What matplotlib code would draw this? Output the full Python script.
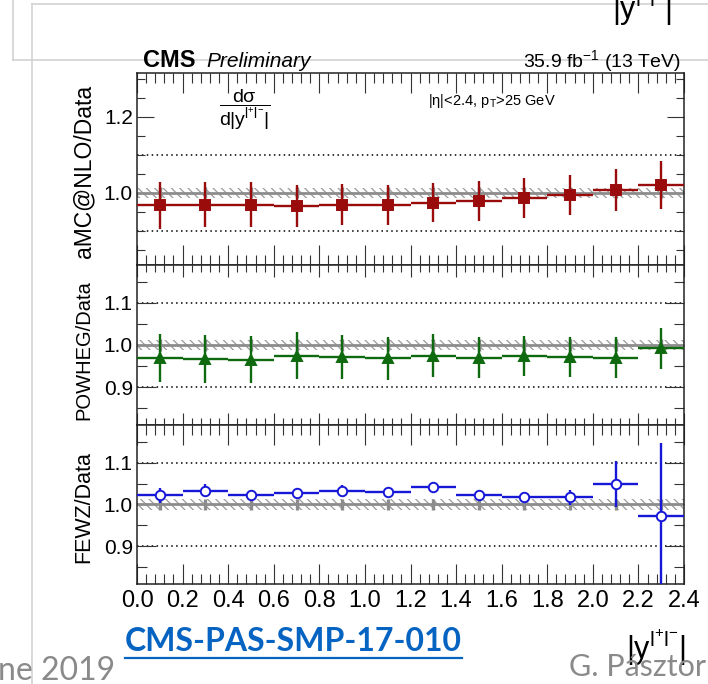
import matplotlib
matplotlib.use("Agg")
import matplotlib.pyplot as plt
from matplotlib.lines import Line2D
from matplotlib.ticker import FixedLocator, MultipleLocator

plt.rcParams["font.family"] = ["Liberation Sans", "DejaVu Sans"]
plt.rcParams["mathtext.fontset"] = "custom"
plt.rcParams["mathtext.rm"] = "Liberation Sans"
plt.rcParams["mathtext.it"] = "Liberation Sans:italic"
plt.rcParams["mathtext.bf"] = "Liberation Sans:bold"
plt.rcParams["mathtext.default"] = "regular"
plt.rcParams["hatch.linewidth"] = 0.9

# |y(ll)| binning
bin_centers = [0.1, 0.3, 0.5, 0.7, 0.9, 1.1, 1.3, 1.5, 1.7, 1.9, 2.1, 2.3]
bin_half_width = 0.1
x_ticks = [0.0, 0.2, 0.4, 0.6, 0.8, 1.0, 1.2, 1.4, 1.6, 1.8, 2.0, 2.2, 2.4]
x_tick_labels = ["0.0", "0.2", "0.4", "0.6", "0.8", "1.0", "1.2",
                 "1.4", "1.6", "1.8", "2.0", "2.2", "2.4"]

# Relative uncertainty of the measurement (grey band and bars around 1)
data_rel_err = [0.014, 0.014, 0.014, 0.014, 0.014, 0.014,
                0.014, 0.014, 0.014, 0.014, 0.014, 0.014]
band_half_width = 0.013

# Prediction / data ratios
amc_ratio = [0.967, 0.969, 0.969, 0.965, 0.969, 0.967,
             0.974, 0.978, 0.987, 0.994, 1.007, 1.020]
amc_err = [0.061, 0.060, 0.060, 0.056, 0.055, 0.053,
           0.052, 0.052, 0.053, 0.053, 0.055, 0.064]

powheg_ratio = [0.969, 0.967, 0.965, 0.975, 0.971, 0.968,
                0.975, 0.970, 0.974, 0.971, 0.970, 0.992]
powheg_err = [0.058, 0.057, 0.056, 0.056, 0.052, 0.050,
              0.050, 0.049, 0.048, 0.048, 0.048, 0.048]

fewz_ratio = [1.022, 1.033, 1.022, 1.028, 1.033, 1.030,
              1.041, 1.022, 1.017, 1.017, 1.049, 0.972]
fewz_err = [0.018, 0.016, 0.012, 0.010, 0.014, 0.010,
            0.010, 0.012, 0.012, 0.018, 0.054, 0.174]

W, H = 708, 684
fig = plt.figure(figsize=(W / 100, H / 100), dpi=100)
fig.patch.set_facecolor("white")


def fx(x):
    return x / W


def fy(y):
    return 1 - y / H


# slide frame lines
slide_grey = "#d2d2d2"
for (x0, y0, x1, y1) in [(32, 4, 708, 4), (32, 4, 32, 684),
                         (13, 0, 13, 60), (13, 60, 708, 60)]:
    fig.add_artist(Line2D([fx(x0), fx(x1)], [fy(y0), fy(y1)],
                          transform=fig.transFigure, color=slide_grey,
                          lw=1.2, zorder=0))

left, right = 137, 684
panels = [(73, 265), (265, 425), (425, 584)]
axes = []
for top, bottom in panels:
    ax = fig.add_axes([fx(left), fy(bottom), (right - left) / W, (bottom - top) / H])
    axes.append(ax)

ylims = [(0.81, 1.315), (0.81, 1.19), (0.81, 1.19)]
ymajor = [[0.8, 1.0, 1.2], [0.9, 1.0, 1.1], [0.9, 1.0, 1.1]]
ylabels = ["aMC@NLO/Data", "POWHEG/Data", "FEWZ/Data"]
ylabel_sizes = [16.5, 14.5, 15.5]
ylabel_centers = [171, 350, 507]
xtick_len = [(14.4, 7.2), (8.6, 5.0), (14.4, 7.2)]
ytick_len = [(12.0, 5.8), (14.0, 7.2), (14.0, 7.2)]

series = [
    (amc_ratio, amc_err, "#9a0b0b", "s", 6.5, None),
    (powheg_ratio, powheg_err, "#0f6a0f", "^", 7.5, None),
    (fewz_ratio, fewz_err, "#1717d8", "o", 6.8, "white"),
]

for i, ax in enumerate(axes):
    ax.set_xlim(0, 2.4)
    ax.set_ylim(*ylims[i])
    ax.set_facecolor("white")
    for sp in ax.spines.values():
        sp.set_linewidth(1.1)
        sp.set_color("#222222")

    # reference line with hatched uncertainty band
    ax.fill_between([0, 2.4], 1 - band_half_width, 1 + band_half_width,
                    facecolor="none", edgecolor="#9a9a9a", hatch="\\\\\\\\",
                    linewidth=0, zorder=1)
    ax.axhline(1.0, color="#8c8c8c", lw=2.0, zorder=2)
    ax.errorbar(bin_centers, [1.0] * len(bin_centers), yerr=data_rel_err,
                fmt="none", ecolor="#8c8c8c", elinewidth=2.4, capsize=0, zorder=2)
    for yv in (0.9, 1.1):
        ax.axhline(yv, color="black", lw=1.1, ls=(0, (1, 2.2)), zorder=1)

    vals, errs, col, mk, ms, mfc = series[i]
    ax.errorbar(bin_centers, vals, xerr=bin_half_width, yerr=errs, fmt="none",
                ecolor=col, elinewidth=1.7, capsize=0, zorder=3)
    ax.plot(bin_centers, vals, ls="none", marker=mk, ms=ms, color=col,
            mfc=mfc if mfc else col, mec=col, mew=1.4, zorder=4)

    ax.xaxis.set_major_locator(FixedLocator(x_ticks))
    ax.xaxis.set_minor_locator(MultipleLocator(0.04))
    ax.yaxis.set_major_locator(FixedLocator(ymajor[i]))
    ax.yaxis.set_minor_locator(MultipleLocator(0.05))
    ax.tick_params(axis="both", which="both", direction="in", top=True,
                   right=True, width=0.8, color="#333333")
    ax.tick_params(axis="x", which="major", length=xtick_len[i][0])
    ax.tick_params(axis="x", which="minor", length=xtick_len[i][1])
    ax.tick_params(axis="y", which="major", length=ytick_len[i][0],
                   labelsize=15, pad=3)
    ax.tick_params(axis="y", which="minor", length=ytick_len[i][1])
    ax.set_yticklabels([f"{v:.1f}" for v in ymajor[i]])
    if i < 2:
        ax.set_xticklabels([])
    else:
        ax.set_xticklabels(x_tick_labels)
        ax.tick_params(axis="x", which="major", labelsize=17, pad=4)

    fig.text(fx(84), fy(ylabel_centers[i]), ylabels[i], rotation=90,
             ha="center", va="center", fontsize=ylabel_sizes[i])

# header
fig.text(fx(143), fy(67), "CMS", fontsize=17, fontweight="bold",
         ha="left", va="baseline")
fig.text(fx(206), fy(67), "Preliminary", fontsize=15, fontstyle="italic",
         ha="left", va="baseline")
fig.text(fx(681), fy(67), r"35.9 fb$^{-1}$ (13 TeV)", fontsize=14,
         ha="right", va="baseline")

# in-plot annotations
fig.text(fx(245), fy(110), r"$\dfrac{d\sigma}{d|y^{l^{+}l^{-}}|}$",
         fontsize=14, ha="center", va="center")
fig.text(fx(428), fy(101), r"$|\eta|$<2.4, p$_{T}$>25 GeV", fontsize=10.5,
         ha="left", va="center")

# x-axis title
fig.text(fx(656), fy(648), r"$|y^{l^{+}l^{-}}|$", fontsize=22,
         ha="center", va="center")
# title of the plot above, cut by the page edge
fig.text(fx(642), fy(19), r"$|y^{l^{+}l^{-}}|$", fontsize=22,
         ha="center", va="baseline")

# slide footer
fig.text(fx(125), fy(651), "CMS-PAS-SMP-17-010", fontsize=23,
         fontweight="bold", color="#0563c1", ha="left", va="baseline",
         family=["Lato", "DejaVu Sans"])
fig.add_artist(Line2D([fx(125), fx(462)], [fy(658), fy(658)],
                      transform=fig.transFigure, color="#0563c1", lw=1.6))
fig.text(fx(-2), fy(680), "ne 2019", fontsize=23, color="#8a8a8a",
         ha="left", va="baseline", family=["Lato", "DejaVu Sans"])
fig.text(fx(706), fy(676), "G. Pásztor", fontsize=22, color="#8a8a8a",
         ha="right", va="baseline", family=["Lato", "DejaVu Sans"])

fig.savefig("out.png", dpi=100, facecolor="white")
